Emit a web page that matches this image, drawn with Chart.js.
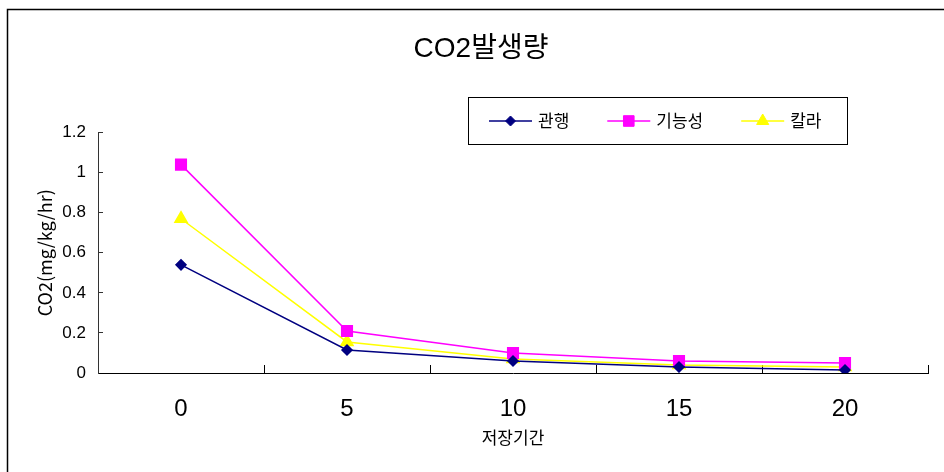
<!DOCTYPE html>
<html>
<head>
<meta charset="utf-8">
<script src="https://cdn.jsdelivr.net/npm/chart.js@4"></script>
<style>
  html, body { margin: 0; padding: 0; background: #fff; }
  #wrap { width: 944px; height: 472px; }
</style>
</head>
<body>
<div id="wrap"><canvas id="myChart" width="944" height="472"></canvas></div>
<script>
// storage days (x categories)
const days = ['0', '5', '10', '15', '20'];
// CO2 series, mg/kg/hr
const conventional = [0.54, 0.115, 0.06, 0.03, 0.015]; // 관행
const functional = [1.04, 0.21, 0.10, 0.06, 0.05];     // 기능성
const color = [0.77, 0.155, 0.07, 0.04, 0.03];         // 칼라
const seriesNames = ['관행', '기능성', '칼라'];
const yTicks = [0, 0.2, 0.4, 0.6, 0.8, 1, 1.2];

const FONT = "'Liberation Sans Narrow', 'Liberation Sans', 'Noto Sans CJK KR', sans-serif";
const WIDE_FONT = "'Noto Sans CJK KR', sans-serif";
Chart.defaults.font.family = FONT;
Chart.defaults.color = '#000';

// outer frame of the original sheet
const framePlugin = {
    id: 'frame',
    beforeDraw(chart) {
        const c = chart.ctx;
        c.save();
        c.strokeStyle = '#000';
        c.lineWidth = 1.5;
        c.strokeRect(7.5, 9.5, 2000, 2000);
        c.restore();
    }
};

// boxed legend, line + marker samples like the spreadsheet one
const boxLegend = {
    id: 'boxLegend',
    afterDraw(chart) {
        const c = chart.ctx;
        const box = { x: 468.5, y: 97.5, w: 379, h: 47 };
        const cy = box.y + box.h / 2;
        c.save();
        c.strokeStyle = '#000';
        c.lineWidth = 1;
        c.strokeRect(box.x, box.y, box.w, box.h);
        c.font = '17px ' + FONT;
        c.textBaseline = 'middle';
        let x = 489;
        chart.data.datasets.forEach(ds => {
            c.strokeStyle = ds.borderColor;
            c.lineWidth = 1.5;
            c.beginPath();
            c.moveTo(x, cy);
            c.lineTo(x + 43, cy);
            c.stroke();
            c.fillStyle = ds.pointBackgroundColor;
            c.strokeStyle = ds.borderColor;
            c.lineWidth = 1;
            Chart.helpers.drawPoint(c, {
                pointStyle: ds.pointStyle,
                radius: ds.pointRadius,
                rotation: 0,
                borderWidth: 1
            }, x + 21.5, cy);
            c.fillStyle = '#000';
            c.fillText(ds.label, x + 49, cy + 1);
            x += 49 + c.measureText(ds.label).width + 38;
        });
        c.restore();
    }
};

const ctx = document.getElementById('myChart').getContext('2d');

const myChart = new Chart(ctx, {
    type: 'line',
    data: {
        labels: days,
        datasets: [{
            label: seriesNames[0],
            data: conventional,
            borderColor: '#000080',
            backgroundColor: '#000080',
            pointBackgroundColor: '#000080',
            pointStyle: 'rectRot',
            pointRadius: 5,
            borderWidth: 1.5
        }, {
            label: seriesNames[1],
            data: functional,
            borderColor: '#ff00ff',
            backgroundColor: '#ff00ff',
            pointBackgroundColor: '#ff00ff',
            pointStyle: 'rect',
            pointRadius: 7.5,
            borderWidth: 1.5
        }, {
            label: seriesNames[2],
            data: color,
            borderColor: '#ffff00',
            backgroundColor: '#ffff00',
            pointBackgroundColor: '#ffff00',
            pointStyle: 'triangle',
            pointRadius: 7,
            borderWidth: 1.5
        }]
    },
    options: {
        responsive: false,
        animation: false,
        layout: { padding: { left: 34, right: 16, top: 0, bottom: 0 } },
        plugins: {
            legend: { display: false },
            tooltip: { enabled: false },
            title: {
                display: true,
                text: 'CO2발생량',
                font: { size: 28, weight: 'normal' },
                color: '#000',
                padding: { top: 32, bottom: 67 }
            }
        },
        scales: {
            x: {
                type: 'category',
                offset: true,
                grid: {
                    offset: true,
                    drawOnChartArea: false,
                    drawTicks: true,
                    tickLength: -8,
                    color: '#000'
                },
                border: { color: '#000', width: 1 },
                ticks: { font: { size: 24 }, padding: 30, color: '#000' },
                title: {
                    display: true,
                    text: '저장기간',
                    font: { size: 17 },
                    color: '#000',
                    padding: { top: 0, bottom: 22 }
                },
                afterFit(scale) { scale.height = 99; }
            },
            y: {
                min: 0,
                max: 1.2,
                afterBuildTicks(scale) {
                    scale.ticks = yTicks.map(v => ({ value: v }));
                },
                grid: {
                    drawOnChartArea: false,
                    drawTicks: true,
                    tickLength: -5,
                    color: '#333'
                },
                border: { color: '#333', width: 1 },
                ticks: {
                    font: { size: 17 },
                    padding: 17,
                    color: '#000',
                    callback: v => String(+v.toFixed(1))
                },
                title: {
                    display: true,
                    text: 'CO2(mg/kg/hr)',
                    font: { size: 18, family: WIDE_FONT },
                    color: '#000',
                    padding: { top: 0, bottom: 0 }
                },
                afterFit(scale) { scale.width = 64; }
            }
        }
    },
    plugins: [framePlugin, boxLegend]
});
</script>
</body>
</html>
